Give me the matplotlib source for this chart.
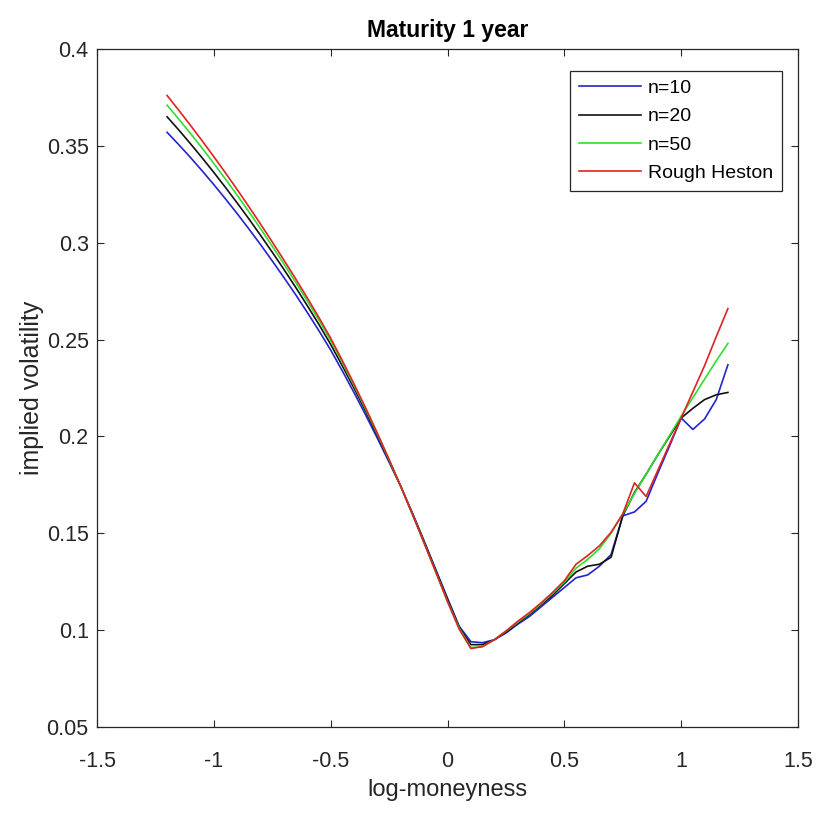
import numpy as np
import matplotlib
matplotlib.use("Agg")
import matplotlib.pyplot as plt

plt.rcParams['font.family'] = ['Liberation Sans', 'DejaVu Sans']

# log-moneyness grid, -1.2 .. 1.2 step 0.05
k = np.round(np.arange(-1.2, 1.2001, 0.05), 2)

vol_n10 = [0.357, 0.3506, 0.344, 0.3371, 0.330, 0.3226, 0.315, 0.3071, 0.299, 0.2906,
           0.282, 0.2732, 0.264, 0.2545, 0.2446, 0.2338, 0.2226, 0.211, 0.199, 0.1867,
           0.1742, 0.1605, 0.146, 0.1312, 0.1165, 0.102, 0.094, 0.0935, 0.095, 0.0985,
           0.103, 0.107, 0.112, 0.117, 0.122, 0.127, 0.1285, 0.133, 0.139, 0.159,
           0.161, 0.1665, 0.181, 0.195, 0.2095, 0.2036, 0.209, 0.219, 0.237]

vol_n20 = [0.365, 0.3582, 0.3511, 0.3438, 0.3363, 0.3285, 0.3205, 0.3123, 0.3038, 0.2951,
           0.2862, 0.277, 0.2675, 0.2577, 0.2475, 0.2364, 0.2249, 0.2129, 0.2004, 0.1875,
           0.1742, 0.160, 0.1455, 0.1307, 0.1157, 0.1015, 0.0925, 0.0925, 0.095, 0.099,
           0.1035, 0.108, 0.113, 0.118, 0.124, 0.130, 0.133, 0.134, 0.1376, 0.159,
           0.171, 0.1805, 0.1905, 0.200, 0.2095, 0.2145, 0.219, 0.2215, 0.2227]

vol_n50 = [0.371, 0.3638, 0.3564, 0.3488, 0.3409, 0.3328, 0.3245, 0.316, 0.3072, 0.2982,
           0.289, 0.2796, 0.2699, 0.2599, 0.2495, 0.2381, 0.2263, 0.214, 0.2012, 0.1879,
           0.1742, 0.1597, 0.1449, 0.1299, 0.1148, 0.101, 0.091, 0.0915, 0.095, 0.0995,
           0.104, 0.1085, 0.1135, 0.119, 0.1248, 0.132, 0.1365, 0.142, 0.150, 0.160,
           0.1705, 0.1805, 0.1905, 0.2005, 0.2105, 0.220, 0.2295, 0.239, 0.248]

vol_rough = [0.376, 0.3684, 0.3606, 0.3526, 0.3444, 0.336, 0.3274, 0.3186, 0.3096, 0.3004,
             0.291, 0.2814, 0.2715, 0.2613, 0.2507, 0.2391, 0.2271, 0.2146, 0.2016, 0.1881,
             0.1742, 0.1597, 0.1449, 0.1299, 0.1147, 0.1005, 0.0905, 0.0915, 0.095, 0.0995,
             0.1045, 0.109, 0.114, 0.1195, 0.1255, 0.134, 0.1385, 0.1435, 0.1505, 0.160,
             0.176, 0.169, 0.1825, 0.196, 0.2095, 0.223, 0.2365, 0.2515, 0.266]

labels = ['n=10', 'n=20', 'n=50', 'Rough Heston']
colors = ['#2323d0', '#111111', '#2ee02e', '#e02222']

fig = plt.figure(figsize=(8.2, 8.17), dpi=100)
ax = fig.add_axes([0.1183, 0.1102, 0.8549, 0.8298])

for v, lab, c in zip([vol_n10, vol_n20, vol_n50, vol_rough], labels, colors):
    ax.plot(k, v, color=c, lw=1.2, label=lab)

ax.set_xlim(-1.5, 1.5)
ax.set_ylim(0.05, 0.4)
ax.set_xticks([-1.5, -1, -0.5, 0, 0.5, 1, 1.5])
ax.set_xticklabels(['-1.5', '-1', '-0.5', '0', '0.5', '1', '1.5'])
ax.set_yticks([0.05, 0.1, 0.15, 0.2, 0.25, 0.3, 0.35, 0.4])
ax.set_yticklabels(['0.05', '0.1', '0.15', '0.2', '0.25', '0.3', '0.35', '0.4'])
ax.tick_params(direction='in', top=True, right=True, length=5, width=0.8,
               labelsize=15.5, colors='#262626')
ax.tick_params(axis='x', pad=17)
ax.tick_params(axis='y', pad=6)
for s in ax.spines.values():
    s.set_linewidth(0.9)
    s.set_color('#262626')

ax.set_title('Maturity 1 year', fontsize=16.5, fontweight='bold', pad=9)
ax.set_xlabel('log-moneyness', fontsize=17, color='#262626', labelpad=5)
ax.set_ylabel('implied volatility', fontsize=18, color='#262626', labelpad=2)

leg = ax.legend(loc='upper right', bbox_to_anchor=(0.977, 0.968), borderaxespad=0,
                fontsize=14, fancybox=False, edgecolor='#262626', framealpha=1,
                handlelength=3.2, handletextpad=0.35, labelspacing=0.55,
                borderpad=0.45)
leg.get_frame().set_linewidth(0.9)

fig.savefig('out.png', dpi=100, facecolor='white')
